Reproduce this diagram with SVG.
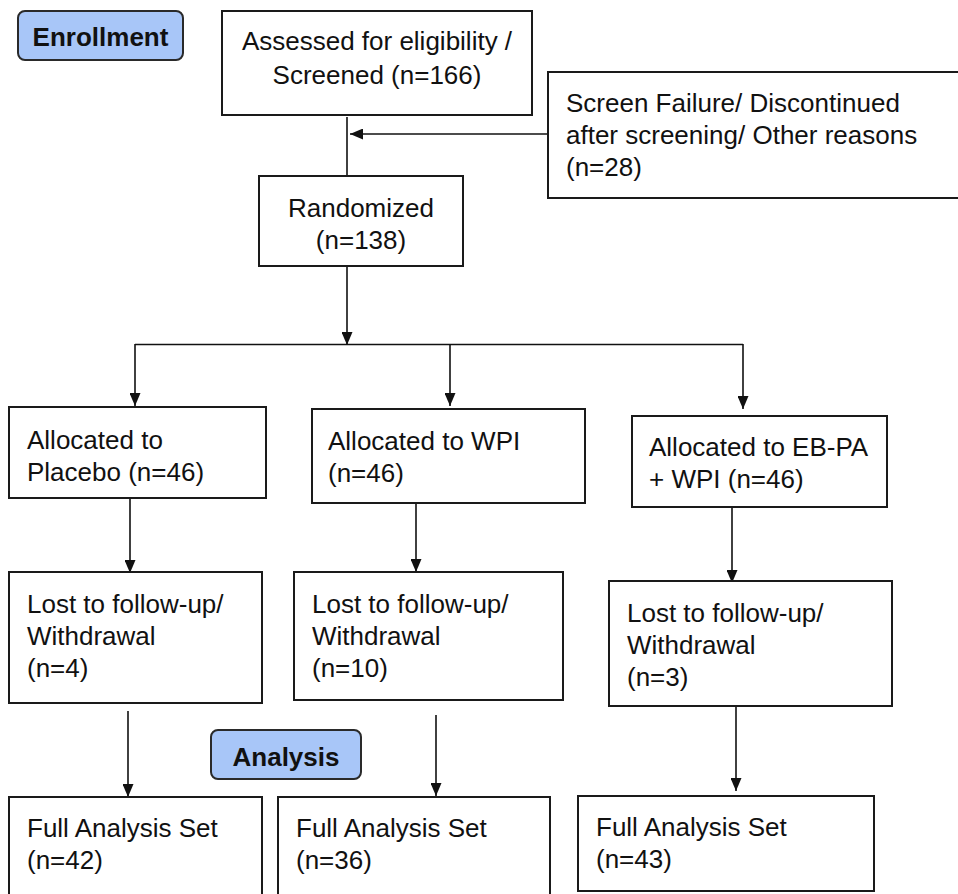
<svg xmlns="http://www.w3.org/2000/svg" width="958" height="894" viewBox="0 0 958 894">
<defs>
<style>
.box{fill:#ffffff;stroke:#1a1a1a;stroke-width:2}
.tag{fill:#a8c6f8;stroke:#2a2a2a;stroke-width:2}
.t{font-family:"Liberation Sans",Arial,sans-serif;font-size:26px;fill:#111}
.tb{font-family:"Liberation Sans",Arial,sans-serif;font-size:26px;font-weight:bold;fill:#111;text-anchor:middle}
.c{text-anchor:middle}
.ln{fill:none;stroke:#111;stroke-width:1.6}
.ar{fill:none;stroke:#111;stroke-width:1.6;marker-end:url(#ah)}
</style>
<marker id="ah" markerUnits="userSpaceOnUse" markerWidth="13" markerHeight="11" refX="13" refY="5.5" orient="auto">
<path d="M0,0 L13,5.5 L0,11 Z" fill="#111"/>
</marker>
</defs>
<rect width="958" height="894" fill="#ffffff"/>

<g id="connectors">
<line class="ln" x1="347" y1="117" x2="347" y2="176"/>
<line class="ar" x1="548" y1="134" x2="350" y2="134"/>
<line class="ar" x1="347" y1="267" x2="347" y2="345"/>
<line class="ln" x1="135" y1="344.5" x2="743" y2="344.5"/>
<line class="ar" x1="135" y1="344" x2="135" y2="406"/>
<line class="ar" x1="450" y1="344" x2="450" y2="406"/>
<line class="ar" x1="743" y1="344" x2="743" y2="409"/>
<line class="ar" x1="130" y1="499" x2="130" y2="573"/>
<line class="ar" x1="416" y1="504" x2="416" y2="572"/>
<line class="ar" x1="732" y1="508" x2="732" y2="583"/>
<line class="ar" x1="128" y1="711" x2="128" y2="797"/>
<line class="ar" x1="436" y1="715" x2="436" y2="796"/>
<line class="ar" x1="736" y1="707" x2="736" y2="791"/>
</g>

<g id="enrollment">
<rect class="tag" x="18" y="11" width="165" height="49" rx="7"/>
<text class="tb" x="100.5" y="46">Enrollment</text>
</g>

<g id="assessed">
<rect class="box" x="222" y="11" width="310" height="104"/>
<text class="t c" x="377" y="50">Assessed for eligibility /</text>
<text class="t c" x="377" y="84">Screened (n=166)</text>
</g>

<g id="screenfail">
<rect class="box" x="548" y="72" width="420" height="126"/>
<text class="t" x="566" y="112">Screen Failure/ Discontinued</text>
<text class="t" x="566" y="144">after screening/ Other reasons</text>
<text class="t" x="566" y="176">(n=28)</text>
</g>

<g id="randomized">
<rect class="box" x="259" y="176" width="204" height="90"/>
<text class="t c" x="361" y="217">Randomized</text>
<text class="t c" x="361" y="249">(n=138)</text>
</g>

<g id="alloc-placebo">
<rect class="box" x="9" y="407" width="257" height="91"/>
<text class="t" x="27" y="449">Allocated to</text>
<text class="t" x="27" y="481">Placebo (n=46)</text>
</g>

<g id="alloc-wpi">
<rect class="box" x="312" y="409" width="273" height="94"/>
<text class="t" x="328" y="450">Allocated to WPI</text>
<text class="t" x="328" y="482">(n=46)</text>
</g>

<g id="alloc-ebpa">
<rect class="box" x="632" y="416" width="255" height="91"/>
<text class="t" x="649" y="456">Allocated to EB-PA</text>
<text class="t" x="649" y="488">+ WPI (n=46)</text>
</g>

<g id="lost-placebo">
<rect class="box" x="9" y="572" width="253" height="131"/>
<text class="t" x="27" y="613">Lost to follow-up/</text>
<text class="t" x="27" y="645">Withdrawal</text>
<text class="t" x="27" y="677">(n=4)</text>
</g>

<g id="lost-wpi">
<rect class="box" x="294" y="572" width="269" height="128"/>
<text class="t" x="312" y="613">Lost to follow-up/</text>
<text class="t" x="312" y="645">Withdrawal</text>
<text class="t" x="312" y="677">(n=10)</text>
</g>

<g id="lost-ebpa">
<rect class="box" x="609" y="581" width="283" height="125"/>
<text class="t" x="627" y="622">Lost to follow-up/</text>
<text class="t" x="627" y="654">Withdrawal</text>
<text class="t" x="627" y="686">(n=3)</text>
</g>

<g id="analysis">
<rect class="tag" x="211" y="730" width="150" height="49" rx="7"/>
<text class="tb" x="286" y="766">Analysis</text>
</g>

<g id="fas-placebo">
<rect class="box" x="9" y="797" width="253" height="110"/>
<text class="t" x="27" y="837">Full Analysis Set</text>
<text class="t" x="27" y="869">(n=42)</text>
</g>

<g id="fas-wpi">
<rect class="box" x="278" y="797" width="272" height="110"/>
<text class="t" x="296" y="837">Full Analysis Set</text>
<text class="t" x="296" y="869">(n=36)</text>
</g>

<g id="fas-ebpa">
<rect class="box" x="578" y="796" width="296" height="95"/>
<text class="t" x="596" y="836">Full Analysis Set</text>
<text class="t" x="596" y="868">(n=43)</text>
</g>
</svg>
